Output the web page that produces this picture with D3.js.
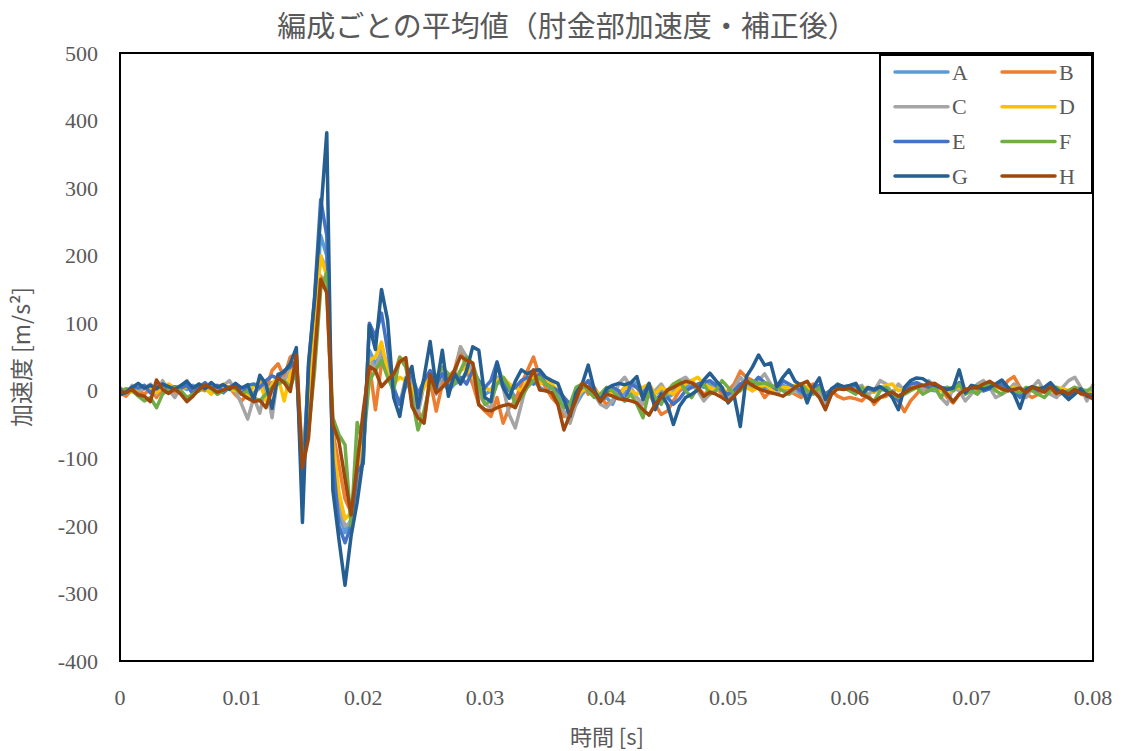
<!DOCTYPE html>
<html>
<head>
<meta charset="utf-8">
<script src="https://cdn.jsdelivr.net/npm/d3@7"></script>
<style>
body { margin:0; background:#fff; }
</style>
</head>
<body>
<svg id="chart" width="1126" height="751"></svg>
<script>
// サンプリング間隔 0.0005 s, 0〜0.08 s
var dt = 0.0005;
var jikan = d3.range(161).map(function(i){ return +(i*dt).toFixed(4); });

var names = ["A","B","C","D","E","F","G","H"];
var colors = ["#5B9BD5","#ED7D31","#A5A5A5","#FFC000","#4472C4","#70AD47","#255E91","#9E480E"];
var yTicks = [-400,-300,-200,-100,0,100,200,300,400,500];
var xTicks = [0,0.01,0.02,0.03,0.04,0.05,0.06,0.07,0.08];

var serA = [2,0,4,-2,3,6,1,5,8,3, 5,2,8,0,5,10,4,-3,6,2, 5,-8,-3,4,8,12,10,20,28,35,
  -120,20,110,230,200,-80,-180,-210,-190,-100, -50,60,40,55,30,-5,-15,5,15,-10,
  10,20,5,15,0,10,15,25,20,5, -5,0,20,15,5,-10,0,10,15,5, 0,5,-5,-15,-25,-20,-5,5,0,-15,
  -10,-20,0,-5,10,12,0,-8,-5,0, -10,-5,0,5,10,8,5,10,5,-3, -8,-2,5,10,8,12,5,3,0,8,
  5,2,-5,-3,4,2,-5,0,3,5, 2,5,0,3,-2,4,0,-3,-8,-2, 5,8,4,2,0,3,5,0,6,-2,
  3,2,0,5,4,6,2,-2,-6,0, 3,0,2,4,-2,0,-4,2,0,-3, -5];
var serB = [-3,-8,2,0,-5,3,-10,2,6,-2, 0,-12,-5,4,0,8,-3,2,5,-6, -15,-5,-10,15,2,30,40,20,50,55,
  -100,-40,80,170,150,-60,-110,-160,-180,-150, -60,40,-28,40,30,20,50,40,-15,-30,
  -45,15,-30,10,20,30,65,30,10,-20, -30,-38,-10,-48,-25,-15,10,30,50,20, 5,-10,-20,-38,-25,0,10,-5,5,-10,
  -20,-15,-5,5,10,5,-10,-5,-20,-35, -30,-15,0,10,15,5,-5,0,5,-5, 0,10,29,20,15,5,-10,0,10,5,
  0,-5,-10,5,10,-8,-5,0,-8,-12, -10,-12,-15,-5,-20,-10,-8,0,-15,-31, -15,-5,5,0,10,5,-10,-18,-5,0,
  5,0,3,8,10,2,15,21,5,-5, -10,-5,0,5,-8,-3,0,5,-5,-8, -12];
var serC = [5,-5,8,0,3,10,-5,15,2,-10, 5,15,-8,10,5,12,-5,8,15,0, -20,-42,-10,-33,10,-40,25,15,30,40,
  -110,-30,100,200,180,-90,-170,-200,-195,-130, -70,50,30,60,40,0,-20,20,10,-35,
  10,25,-5,30,10,20,65,50,20,-5, -20,-25,20,5,-35,-55,-20,15,30,10, 15,5,-15,-30,-48,-20,5,15,-5,-20,
  -25,-15,10,20,5,-10,-20,-5,0,10, -5,0,15,20,10,0,-15,-5,10,5, -10,5,20,10,0,15,25,10,-5,5,
  -5,0,10,-10,5,0,-20,-5,10,5, 0,5,8,-5,0,15,10,-5,10,0, 5,10,0,15,5,-10,-20,5,0,-15,
  -5,10,15,5,-10,-5,0,10,5,-10, 5,15,0,-5,-10,5,15,20,5,-15, 10];
var serD = [0,3,-2,5,8,2,-3,5,10,4, 2,6,0,8,4,-5,5,10,3,0, 5,-10,8,12,-15,10,20,-15,25,40,
  -110,-20,100,200,170,-70,-150,-190,-180,-120, -40,45,50,72,30,10,20,15,5,-15,
  5,20,15,20,25,15,30,35,20,10, 5,0,15,20,10,5,0,15,20,10, 15,10,0,-10,-20,-10,0,5,0,-5,
  0,-5,-10,5,0,-5,5,10,-5,5, 0,-5,5,10,15,20,10,5,0,5, -5,0,10,5,0,5,10,3,0,5,
  5,8,10,5,0,3,-5,0,5,3, 5,0,3,5,-2,5,8,10,0,3, 5,10,8,5,3,0,-3,2,5,0,
  3,5,10,8,5,3,0,5,2,0, 3,5,2,0,5,3,0,4,2,-3, -5];
var serE = [3,-2,6,4,8,-3,5,10,2,6, 4,8,-4,6,12,3,8,-2,5,10, -5,8,10,5,15,22,18,30,35,45,
  -150,35,140,283,230,-100,-200,-225,-200,-120, -108,100,80,115,60,5,-20,10,25,-5,
  15,30,10,25,5,15,20,10,30,15, 5,15,43,10,0,5,15,20,10,25, 10,5,0,-10,-20,-5,5,15,-5,-10,
  -2,5,0,-15,10,5,-5,10,-15,-5, -10,-20,-12,0,5,10,12,15,8,0, -5,0,10,15,10,20,12,8,2,15,
  10,5,0,-10,5,8,-5,2,5,4, 6,8,-2,4,0,5,2,-5,-15,0, 10,12,8,5,6,4,2,5,12,0,
  5,4,0,3,8,10,3,0,-10,2, 4,0,2,6,0,-2,-8,-3,2,-5, -6];
var serF = [-5,3,0,-8,-15,-10,-25,-5,2,5, 0,-10,-5,0,8,3,-5,0,6,3, -5,0,-10,-15,-5,5,10,15,5,30,
  -100,-60,30,150,175,-40,-65,-80,-200,-47, -80,15,30,45,20,0,49,35,-10,-58,
  -30,10,20,35,25,10,30,50,40,10, -20,-15,10,20,5,-20,-10,5,15,20, 10,5,-10,-25,-20,5,10,0,-10,-5,
  5,0,-10,-15,-5,-20,-40,0,-10,-20, 0,10,15,0,-10,5,10,-5,0,15, 5,-5,0,10,15,10,12,8,5,0,
  -5,5,10,0,-5,5,-10,0,10,5, 0,-5,5,-10,-15,0,5,-5,-10,-5, 0,5,-5,0,5,-10,5,0,10,-5,
  0,-5,5,10,0,-5,5,0,-3,5, 0,-5,-10,0,5,-3,0,5,2,0, 5];
var serG = [-6,-2,5,11,4,8,3,10,6,2, 8,14,4,10,3,12,5,9,2,11, 4,9,-13,23,10,-26,24,28,40,64,
  -195,41,135,260,382,-147,-220,-288,-215,-165, -100,97,61,150,105,-10,-38,16,36,-25,
  20,73,4,60,-8,26,10,30,65,60, -10,-16,41,5,-11,14,31,25,30,31, 20,15,11,-13,-38,-3,10,38,1,-16,
  3,8,11,9,12,21,-13,11,-28,-5, -20,-50,-23,-10,-5,1,16,26,15,5, -18,-8,-53,21,35,53,38,41,6,20,
  31,14,8,-18,5,19,-13,3,9,6, 8,11,-6,5,2,6,0,-10,-28,5, 15,19,18,12,8,5,2,4,31,-3,
  8,6,2,5,10,16,5,-5,-26,2, 6,3,5,12,2,-4,-13,-5,3,-8, -10];
var serH = [-1,-3,2,-6,-8,-16,16,2,-4,3, -5,-16,-8,2,9,4,-2,1,5,6, -5,-11,-16,-14,-25,2,19,12,-1,53,
  -114,-70,50,165,145,-50,-75,-130,-184,-110, -30,36,30,6,16,25,43,49,-23,-40,
  -48,24,-3,5,15,30,51,45,41,-21, -28,-30,-25,-22,-20,-25,-5,10,31,1, 0,-3,-20,-58,-35,-13,11,5,-3,-16,
  -5,-8,-12,-13,-15,-18,-28,-36,-20,-10, 1,5,10,14,12,5,-8,-2,-5,-10, -16,-8,3,14,8,3,0,-3,-5,-8,
  -2,5,10,14,0,-10,-28,-5,3,2, 4,0,-5,-10,-16,-10,-5,-2,-8,-3, 3,6,8,10,11,5,-5,-16,-5,2,
  4,5,10,14,8,3,0,2,4,-3, 5,2,-2,6,-4,0,-5,2,-4,-6, -12];

var series = [serA,serB,serC,serD,serE,serF,serG,serH];

var pL = 120, pR = 1093, pT = 53, pB = 661;
var svg = d3.select("#chart");

var x = d3.scaleLinear().domain([0,0.08]).range([pL,pR]);
var y = d3.scaleLinear().domain([-400,500]).range([pB,pT]);

var line = d3.line()
    .x(function(d,i){ return x(jikan[i]); })
    .y(function(d){ return y(d); });

svg.append("g")
  .selectAll("path")
  .data(series)
  .enter().append("path")
  .attr("d", line)
  .attr("fill","none")
  .attr("stroke", function(d,i){ return colors[i]; })
  .attr("stroke-width", 3.5)
  .attr("stroke-linejoin","round");

// 枠
svg.append("rect")
  .attr("x", pL).attr("y", pT)
  .attr("width", pR-pL).attr("height", pB-pT)
  .attr("fill","none").attr("stroke","#000").attr("stroke-width",2);

// 目盛ラベル
svg.append("g")
  .selectAll("text")
  .data(yTicks)
  .enter().append("text")
  .attr("x", 98)
  .attr("y", function(d){ return y(d); })
  .attr("dy","0.35em")
  .attr("text-anchor","end")
  .attr("font-family","'Liberation Serif', serif")
  .attr("font-size",22)
  .attr("fill","#595959")
  .text(function(d){ return d; });

svg.append("g")
  .selectAll("text")
  .data(xTicks)
  .enter().append("text")
  .attr("x", function(d){ return x(d); })
  .attr("y", 697)
  .attr("dy","0.35em")
  .attr("text-anchor","middle")
  .attr("font-family","'Liberation Serif', serif")
  .attr("font-size",22)
  .attr("fill","#595959")
  .text(function(d){ return d; });

// タイトル
svg.append("text")
  .attr("x", 567).attr("y", 37)
  .attr("text-anchor","middle")
  .attr("font-family","'Noto Sans CJK JP', sans-serif")
  .attr("font-size",29)
  .attr("fill","#595959")
  .text("編成ごとの平均値（肘金部加速度・補正後）");

svg.append("text")
  .attr("x", 607).attr("y", 745)
  .attr("text-anchor","middle")
  .attr("font-family","'Noto Sans CJK JP', sans-serif")
  .attr("font-size",22)
  .attr("fill","#595959")
  .text("時間 [s]");

svg.append("text")
  .attr("transform","translate(30,357) rotate(-90)")
  .attr("text-anchor","middle")
  .attr("font-family","'Noto Sans CJK JP', sans-serif")
  .attr("font-size",23)
  .attr("fill","#595959")
  .text("加速度 [m/s²]");

// 凡例
var lg = svg.append("g");
lg.append("rect")
  .attr("x",880).attr("y",55).attr("width",212).attr("height",138)
  .attr("fill","#fff").attr("stroke","#000").attr("stroke-width",2);

var items = lg.selectAll("g.item")
  .data(names)
  .enter().append("g")
  .attr("class","item")
  .attr("transform", function(d,i){
      var cx = (i%2==0) ? 895 : 1002;
      var cy = 72 + Math.floor(i/2)*34.7;
      return "translate(" + cx + "," + cy + ")";
  });
items.append("line")
  .attr("x1",0).attr("x2",53).attr("y1",0).attr("y2",0)
  .attr("stroke", function(d,i){ return colors[i]; })
  .attr("stroke-width",3.5)
  .attr("stroke-linecap","round");
items.append("text")
  .attr("x",57).attr("dy","0.35em")
  .attr("font-family","'Liberation Serif', serif")
  .attr("font-size",22)
  .attr("fill","#595959")
  .text(function(d){ return d; });
</script>
</body>
</html>
